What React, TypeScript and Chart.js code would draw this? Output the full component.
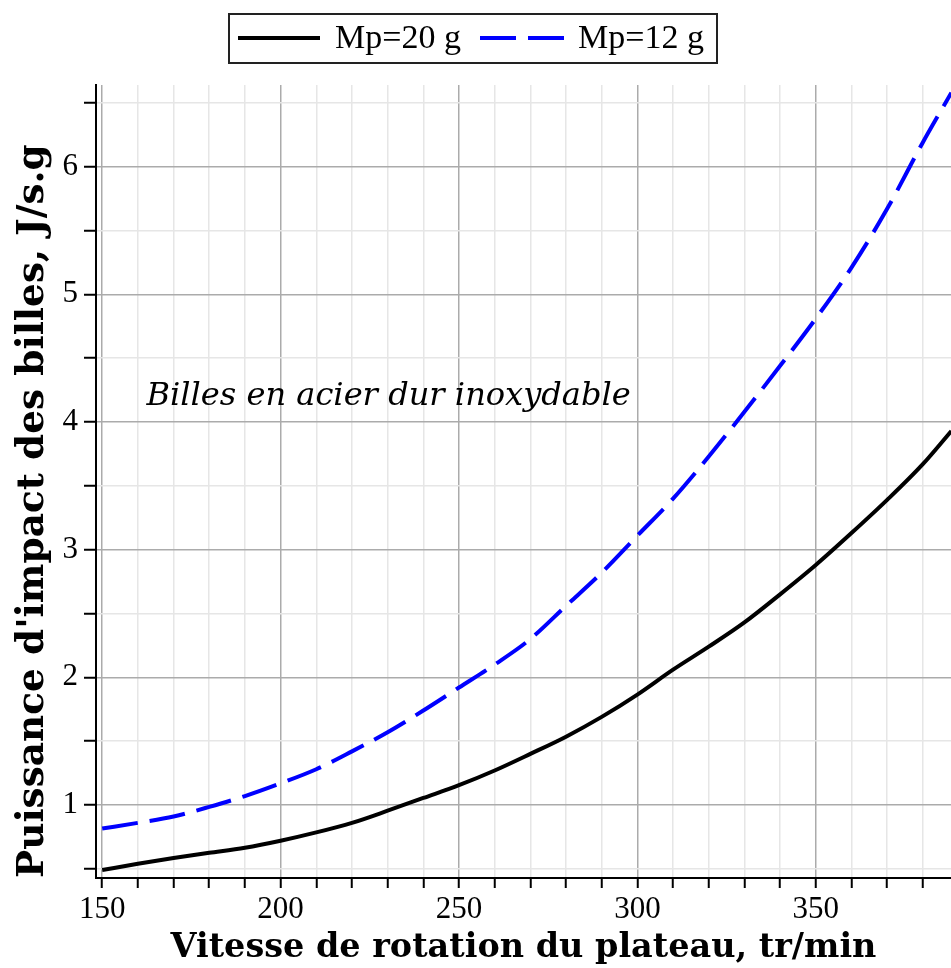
import React, { useEffect, useRef } from "react";
import { Chart, registerables } from "chart.js";

Chart.register(...registerables);

// ---- data ----
const speeds = [150, 160, 170, 180, 190, 200, 210, 220, 230, 240, 250, 260, 270, 280, 290, 300, 310, 320, 330, 340, 350, 360, 370, 380, 388];
const powerMp20 = [0.49, 0.54, 0.585, 0.625, 0.665, 0.72, 0.785, 0.86, 0.955, 1.055, 1.155, 1.27, 1.4, 1.535, 1.69, 1.865, 2.06, 2.24, 2.43, 2.65, 2.88, 3.13, 3.39, 3.67, 3.93];
const powerMp12 = [0.815, 0.86, 0.91, 0.985, 1.07, 1.17, 1.28, 1.42, 1.57, 1.74, 1.92, 2.1, 2.3, 2.56, 2.82, 3.11, 3.4, 3.73, 4.08, 4.44, 4.81, 5.21, 5.67, 6.19, 6.58];
const seriesLabels = ["Mp=20 g", "Mp=12 g"];

const xTickValues = [150, 160, 170, 180, 190, 200, 210, 220, 230, 240, 250, 260, 270, 280, 290, 300, 310, 320, 330, 340, 350, 360, 370, 380];
const xMajorTicks = [150, 200, 250, 300, 350];
const yTickValues = [0.5, 1, 1.5, 2, 2.5, 3, 3.5, 4, 4.5, 5, 5.5, 6, 6.5];
const yMajorTicks = [1, 2, 3, 4, 5, 6];

const xTitle = "Vitesse de rotation du plateau, tr/min";
const yTitle = "Puissance d'impact des billes, J/s.g";
const noteText = "Billes en acier dur inoxydable";
const notePosition = [162.4, 4.2];

const xRange = [148.26, 387.9];
const yRange = [0.428, 6.64];

const TITLE_FAMILY = '"DejaVu Serif"';

function fitSize(text: string, targetWidth: number, weight: string, family: string) {
  const c = document.createElement("canvas").getContext("2d")!;
  c.font = `${weight} 100px ${family}`;
  const w = c.measureText(text).width;
  return (100 * targetWidth) / w;
}

const boxLegend = {
  id: "boxLegend",
  afterDraw(chart: any) {
    const ctx = chart.ctx as CanvasRenderingContext2D;
    const ds = chart.data.datasets;
    ctx.save();
    ctx.strokeStyle = "#222";
    ctx.lineWidth = 2;
    ctx.setLineDash([]);
    ctx.strokeRect(229, 14, 488, 49);
    const y = 38;
    ctx.font = '34px "Liberation Serif"';
    ctx.textBaseline = "middle";
    ctx.textAlign = "left";
    ctx.strokeStyle = ds[0].borderColor;
    ctx.lineWidth = 4;
    ctx.setLineDash([]);
    ctx.beginPath();
    ctx.moveTo(238, y);
    ctx.lineTo(320, y);
    ctx.stroke();
    ctx.fillStyle = "#000";
    ctx.fillText(ds[0].label, 335, y + 1);
    ctx.strokeStyle = ds[1].borderColor;
    ctx.setLineDash(ds[1].borderDash);
    ctx.beginPath();
    ctx.moveTo(480, y);
    ctx.lineTo(564, y);
    ctx.stroke();
    ctx.setLineDash([]);
    ctx.fillText(ds[1].label, 578, y + 1);
    ctx.restore();
  },
};

const noteLabel = {
  id: "noteLabel",
  afterDatasetsDraw(chart: any) {
    const ctx = chart.ctx as CanvasRenderingContext2D;
    const xs = chart.scales.x;
    const ys = chart.scales.y;
    ctx.save();
    const size = fitSize(noteText, 485, "italic", '"DejaVu Serif"');
    ctx.font = `italic ${size.toFixed(1)}px "DejaVu Serif"`;
    ctx.fillStyle = "#000";
    ctx.textBaseline = "middle";
    ctx.textAlign = "left";
    ctx.fillText(noteText, xs.getPixelForValue(notePosition[0]), ys.getPixelForValue(notePosition[1]));
    ctx.restore();
  },
};

export default function App() {
  const canvasRef = useRef<HTMLCanvasElement | null>(null);

  useEffect(() => {
    if (!canvasRef.current) return;
    const xTitleSize = fitSize(xTitle, 706, "bold", TITLE_FAMILY);
    const yTitleSize = fitSize(yTitle, 734, "bold", TITLE_FAMILY);
    const chart = new Chart(canvasRef.current, {
      type: "line",
      data: {
        datasets: [
          {
            label: seriesLabels[0],
            data: speeds.map((s, i) => ({ x: s, y: powerMp20[i] })),
            borderColor: "#000000",
            borderWidth: 4,
            pointRadius: 0,
            cubicInterpolationMode: "monotone",
            fill: false,
          },
          {
            label: seriesLabels[1],
            data: speeds.map((s, i) => ({ x: s, y: powerMp12[i] })),
            borderColor: "#0000ff",
            borderWidth: 4,
            borderDash: [36, 12],
            pointRadius: 0,
            cubicInterpolationMode: "monotone",
            fill: false,
          },
        ],
      },
      options: {
        animation: false,
        responsive: false,
        maintainAspectRatio: false,
        layout: { padding: { top: 85, left: 0, right: 0, bottom: 0 } },
        plugins: {
          legend: { display: false },
          tooltip: { enabled: false },
        },
        scales: {
          x: {
            type: "linear",
            min: xRange[0],
            max: xRange[1],
            afterBuildTicks: (scale: any) => {
              scale.ticks = xTickValues.map((v) => ({ value: v }));
            },
            afterFit: (scale: any) => {
              scale.height = 90;
            },
            ticks: {
              autoSkip: false,
              maxRotation: 0,
              minRotation: 0,
              padding: 3,
              color: "#000",
              font: { family: '"Liberation Serif"', size: 31 },
              callback: (v: any) => (xMajorTicks.includes(Number(v)) ? String(v) : ""),
            },
            grid: {
              color: (c: any) => (xMajorTicks.includes(c.tick?.value) ? "#ababab" : "#e6e6e6"),
              lineWidth: 1.5,
              drawTicks: true,
              tickLength: 10,
              tickColor: "#000",
              tickWidth: 2,
            },
            border: { display: true, color: "#000", width: 2 },
            title: {
              display: true,
              text: xTitle,
              color: "#000",
              font: { family: TITLE_FAMILY, size: xTitleSize, weight: "bold", lineHeight: 1.2 },
              padding: { top: 0, bottom: 0 },
            },
          },
          y: {
            type: "linear",
            min: yRange[0],
            max: yRange[1],
            afterBuildTicks: (scale: any) => {
              scale.ticks = yTickValues.map((v) => ({ value: v }));
            },
            afterFit: (scale: any) => {
              scale.width = 96;
            },
            ticks: {
              autoSkip: false,
              padding: 6,
              color: "#000",
              font: { family: '"Liberation Serif"', size: 31 },
              callback: (v: any) => (yMajorTicks.includes(Number(v)) ? String(v) : ""),
            },
            grid: {
              color: (c: any) => (yMajorTicks.includes(c.tick?.value) ? "#ababab" : "#e6e6e6"),
              lineWidth: 1.5,
              drawTicks: true,
              tickLength: 12,
              tickColor: "#000",
              tickWidth: 2,
            },
            border: { display: true, color: "#000", width: 2 },
            title: {
              display: true,
              text: yTitle,
              align: "start",
              color: "#000",
              font: { family: TITLE_FAMILY, size: yTitleSize, weight: "bold", lineHeight: 1.2 },
              padding: { top: Math.max(0, 33 - yTitleSize * 0.6), bottom: 0 },
            },
          },
        },
      },
      plugins: [boxLegend, noteLabel],
    } as any);
    return () => chart.destroy();
  }, []);

  return (
    <div style={{ position: "absolute", left: 0, top: 0, width: 951, height: 968, background: "#fff" }}>
      <canvas ref={canvasRef} width={951} height={968} style={{ width: 951, height: 968, display: "block" }} />
    </div>
  );
}
